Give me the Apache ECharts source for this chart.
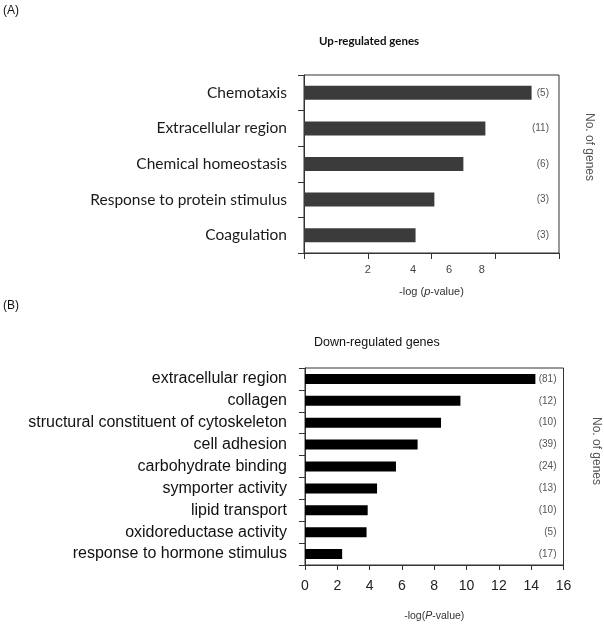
<!DOCTYPE html>
<html>
<head>
<meta charset="utf-8">
<script src="https://cdn.jsdelivr.net/npm/echarts@6/dist/echarts.min.js"></script>
<style>html,body{margin:0;padding:0;background:#fff}#c{width:604px;height:624px}</style>
</head>
<body>
<div id="c"></div>
<script>
// Panel A: up-regulated genes
var upCategories = ['Chemotaxis', 'Extracellular region', 'Chemical homeostasis', 'Response to protein stimulus', 'Coagulation'];
var upValues = [7.14, 5.69, 5.0, 4.09, 3.5];
var upCounts = ['(5)', '(11)', '(6)', '(3)', '(3)'];
var upTickValues = [0, 2, 4, 6, 8];
var upTickLabelValues = [2, 3.42, 4.55, 5.58];
var upTickLabels = ['2', '4', '6', '8'];

// Panel B: down-regulated genes
var downCategories = ['extracellular region', 'collagen', 'structural constituent of cytoskeleton', 'cell adhesion', 'carbohydrate binding', 'symporter activity', 'lipid transport', 'oxidoreductase activity', 'response to hormone stimulus'];
var downValues = [14.26, 9.62, 8.42, 6.97, 5.63, 4.46, 3.88, 3.81, 2.3];
var downCounts = ['(81)', '(12)', '(10)', '(39)', '(24)', '(13)', '(10)', '(5)', '(17)'];

var chart = echarts.init(document.getElementById('c'), null, {renderer: 'canvas'});
var axisCol = '#333';

var option = {
  backgroundColor: '#fff',
  animation: false,
  title: [
    {text: 'Up-regulated genes', left: 314, top: 30,
     textStyle: {fontFamily: 'Lato', fontSize: 11.5, fontWeight: 'bold', color: '#111'}},
    {text: 'Down-regulated genes', left: 309, top: 331,
     textStyle: {fontFamily: 'Liberation Sans', fontSize: 12.5, fontWeight: 'normal', color: '#111'}}
  ],
  graphic: [
    {type: 'text', left: 3, top: 5, style: {text: '(A)', font: '12px "Liberation Sans"', fill: '#111'}},
    {type: 'text', left: 3, top: 300, style: {text: '(B)', font: '12px "Liberation Sans"', fill: '#111'}},
    {type: 'text', x: 589, y: 113, rotation: -Math.PI / 2,
     style: {text: 'No. of genes', font: '12px "Liberation Sans"', fill: '#555', align: 'left', verticalAlign: 'middle'}},
    {type: 'text', x: 596, y: 417, rotation: -Math.PI / 2,
     style: {text: 'No. of genes', font: '12px "Liberation Sans"', fill: '#555', align: 'left', verticalAlign: 'middle'}}
  ],
  grid: [
    {left: 304, right: 45, top: 75, height: 178, show: true, borderColor: axisCol, borderWidth: 1, backgroundColor: 'transparent'},
    {left: 305, right: 40.5, top: 368, height: 197, show: true, borderColor: axisCol, borderWidth: 1, backgroundColor: 'transparent'}
  ],
  xAxis: [
    {gridIndex: 0, type: 'value', min: 0, max: 8,
     name: '{a|-log (}{i|p}{a|-value)}', nameLocation: 'middle', nameGap: 33,
     nameTextStyle: {rich: {a: {fontFamily: 'Liberation Sans', fontSize: 11, color: '#333'},
                            i: {fontFamily: 'Liberation Sans', fontSize: 11, fontStyle: 'italic', color: '#333'}}},
     axisLine: {show: true, lineStyle: {color: axisCol, width: 1}},
     axisTick: {show: true, length: 6, customValues: upTickValues, lineStyle: {color: axisCol}},
     axisLabel: {customValues: upTickLabelValues, margin: 11, fontFamily: 'Liberation Sans', fontSize: 11, color: '#444',
                 formatter: function (v) { var i = upTickLabelValues.indexOf(v); return i >= 0 ? upTickLabels[i] : ''; }},
     splitLine: {show: false}},
    {gridIndex: 1, type: 'value', min: 0, max: 16, interval: 2,
     name: '{a|-log(}{i|P}{a|-value)}', nameLocation: 'middle', nameGap: 46,
     nameTextStyle: {rich: {a: {fontFamily: 'Liberation Sans', fontSize: 10.5, color: '#333'},
                            i: {fontFamily: 'Liberation Sans', fontSize: 10.5, fontStyle: 'italic', color: '#333'}}},
     axisLine: {show: true, lineStyle: {color: axisCol, width: 1}},
     axisTick: {show: true, length: 5, lineStyle: {color: axisCol}},
     axisLabel: {margin: 14, fontFamily: 'Liberation Sans', fontSize: 14, color: '#222'},
     splitLine: {show: false}}
  ],
  yAxis: [
    {gridIndex: 0, type: 'category', data: upCategories, inverse: true,
     axisLine: {show: true, lineStyle: {color: axisCol}},
     axisTick: {show: true, length: 6, inside: false, lineStyle: {color: axisCol}},
     axisLabel: {margin: 17, fontFamily: 'Lato', fontSize: 15.5, color: '#1a1a1a'}},
    {gridIndex: 0, type: 'category', data: upCounts, inverse: true, position: 'right',
     axisLine: {show: false}, axisTick: {show: false},
     axisLabel: {inside: true, margin: 10, fontFamily: 'Liberation Sans', fontSize: 10, color: '#555'}},
    {gridIndex: 1, type: 'category', data: downCategories, inverse: true,
     axisLine: {show: true, lineStyle: {color: axisCol}},
     axisTick: {show: true, length: 6, lineStyle: {color: axisCol}},
     axisLabel: {margin: 18, fontFamily: 'Liberation Sans', fontSize: 16, color: '#111'}},
    {gridIndex: 1, type: 'category', data: downCounts, inverse: true, position: 'right',
     axisLine: {show: false}, axisTick: {show: false},
     axisLabel: {inside: true, margin: 7, fontFamily: 'Liberation Sans', fontSize: 10, color: '#555'}}
  ],
  series: [
    {type: 'bar', xAxisIndex: 0, yAxisIndex: 0, data: upValues, barWidth: 14,
     itemStyle: {color: '#3b3b3b'}, silent: true},
    {type: 'bar', xAxisIndex: 1, yAxisIndex: 2, data: downValues, barWidth: 10,
     itemStyle: {color: '#000'}, silent: true}
  ]
};
chart.setOption(option);
</script>
</body>
</html>
